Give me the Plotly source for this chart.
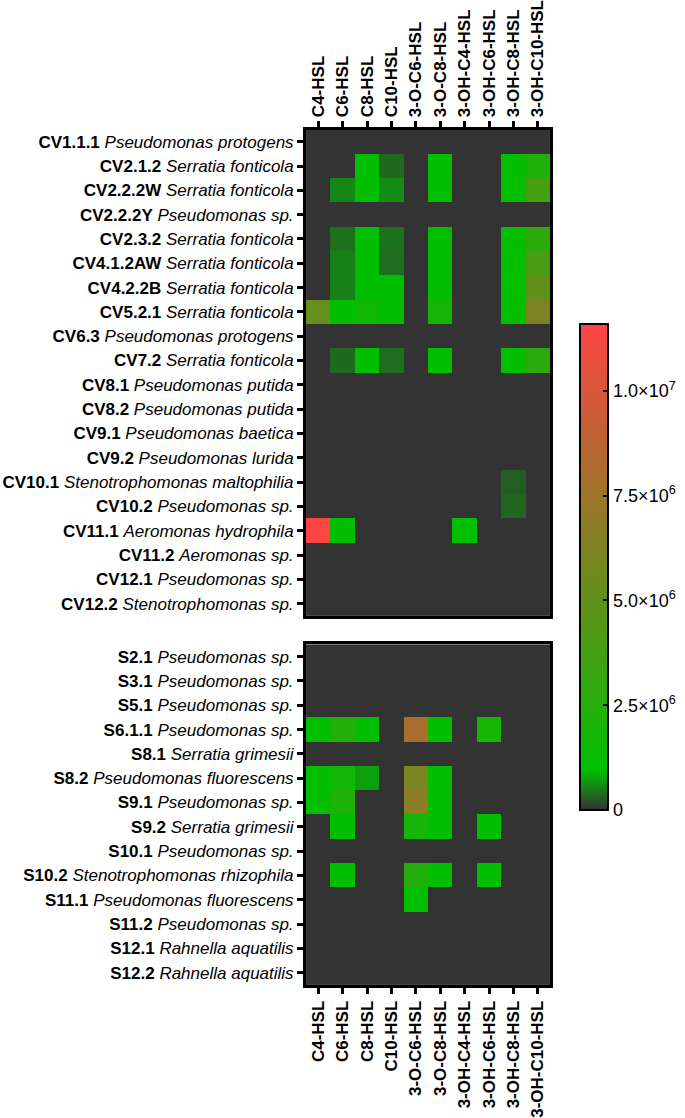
import plotly.graph_objects as go

compounds = ["C4-HSL", "C6-HSL", "C8-HSL", "C10-HSL", "3-O-C6-HSL", "3-O-C8-HSL",
             "3-OH-C4-HSL", "3-OH-C6-HSL", "3-OH-C8-HSL", "3-OH-C10-HSL"]

cv_ids = ["CV1.1.1", "CV2.1.2", "CV2.2.2W", "CV2.2.2Y", "CV2.3.2", "CV4.1.2AW", "CV4.2.2B",
          "CV5.2.1", "CV6.3", "CV7.2", "CV8.1", "CV8.2", "CV9.1", "CV9.2", "CV10.1",
          "CV10.2", "CV11.1", "CV11.2", "CV12.1", "CV12.2"]
cv_species = ["Pseudomonas protogens", "Serratia fonticola", "Serratia fonticola",
              "Pseudomonas sp.", "Serratia fonticola", "Serratia fonticola",
              "Serratia fonticola", "Serratia fonticola", "Pseudomonas protogens",
              "Serratia fonticola", "Pseudomonas putida", "Pseudomonas putida",
              "Pseudomonas baetica", "Pseudomonas lurida", "Stenotrophomonas maltophilia",
              "Pseudomonas sp.", "Aeromonas hydrophila", "Aeromonas sp.",
              "Pseudomonas sp.", "Stenotrophomonas sp."]

s_ids = ["S2.1", "S3.1", "S5.1", "S6.1.1", "S8.1", "S8.2", "S9.1", "S9.2", "S10.1",
         "S10.2", "S11.1", "S11.2", "S12.1", "S12.2"]
s_species = ["Pseudomonas sp.", "Pseudomonas sp.", "Pseudomonas sp.", "Pseudomonas sp.",
             "Serratia grimesii", "Pseudomonas fluorescens", "Pseudomonas sp.",
             "Serratia grimesii", "Pseudomonas sp.", "Stenotrophomonas rhizophila",
             "Pseudomonas fluorescens", "Pseudomonas sp.", "Rahnella aquatilis",
             "Rahnella aquatilis"]

# values per strain (columns follow `compounds`)
cv_values = [
    [0, 0, 0, 0, 0, 0, 0, 0, 0, 0],
    [0, 0, 1.0e6, 0.37e6, 0, 1.0e6, 0, 0, 1.0e6, 2.2e6],
    [0, 0.57e6, 1.0e6, 0.6e6, 0, 1.0e6, 0, 0, 1.0e6, 3.8e6],
    [0, 0, 0, 0, 0, 0, 0, 0, 0, 0],
    [0, 0.42e6, 1.0e6, 0.42e6, 0, 1.0e6, 0, 0, 1.0e6, 2.8e6],
    [0, 0.52e6, 1.0e6, 0.4e6, 0, 1.0e6, 0, 0, 1.0e6, 4.0e6],
    [0, 0.52e6, 1.0e6, 1.0e6, 0, 1.0e6, 0, 0, 1.0e6, 5.0e6],
    [5.2e6, 1.0e6, 1.6e6, 1.0e6, 0, 1.8e6, 0, 0, 1.0e6, 6.2e6],
    [0, 0, 0, 0, 0, 0, 0, 0, 0, 0],
    [0, 0.37e6, 1.0e6, 0.4e6, 0, 1.0e6, 0, 0, 1.0e6, 2.8e6],
    [0, 0, 0, 0, 0, 0, 0, 0, 0, 0],
    [0, 0, 0, 0, 0, 0, 0, 0, 0, 0],
    [0, 0, 0, 0, 0, 0, 0, 0, 0, 0],
    [0, 0, 0, 0, 0, 0, 0, 0, 0, 0],
    [0, 0, 0, 0, 0, 0, 0, 0, 0.28e6, 0],
    [0, 0, 0, 0, 0, 0, 0, 0, 0.34e6, 0],
    [1.16e7, 1.0e6, 0, 0, 0, 0, 1.0e6, 0, 0, 0],
    [0, 0, 0, 0, 0, 0, 0, 0, 0, 0],
    [0, 0, 0, 0, 0, 0, 0, 0, 0, 0],
    [0, 0, 0, 0, 0, 0, 0, 0, 0, 0],
]

s_values = [
    [0, 0, 0, 0, 0, 0, 0, 0, 0, 0],
    [0, 0, 0, 0, 0, 0, 0, 0, 0, 0],
    [0, 0, 0, 0, 0, 0, 0, 0, 0, 0],
    [1.0e6, 2.3e6, 1.0e6, 0, 8.0e6, 1.0e6, 0, 1.9e6, 0, 0],
    [0, 0, 0, 0, 0, 0, 0, 0, 0, 0],
    [1.0e6, 1.6e6, 0.73e6, 0, 6.0e6, 1.0e6, 0, 0, 0, 0],
    [1.0e6, 2.2e6, 0, 0, 6.8e6, 1.0e6, 0, 0, 0, 0],
    [0, 1.0e6, 0, 0, 1.9e6, 1.0e6, 0, 1.0e6, 0, 0],
    [0, 0, 0, 0, 0, 0, 0, 0, 0, 0],
    [0, 1.0e6, 0, 0, 2.4e6, 1.0e6, 0, 1.0e6, 0, 0],
    [0, 0, 0, 0, 1.0e6, 0, 0, 0, 0, 0],
    [0, 0, 0, 0, 0, 0, 0, 0, 0, 0],
    [0, 0, 0, 0, 0, 0, 0, 0, 0, 0],
    [0, 0, 0, 0, 0, 0, 0, 0, 0, 0],
]

cbar_vals = [0, 2.5e6, 5.0e6, 7.5e6, 1.0e7]
cbar_text = ["0", "2.5×10<sup>6</sup>", "5.0×10<sup>6</sup>", "7.5×10<sup>6</sup>",
             "1.0×10<sup>7</sup>"]
zmax = 1.16e7

cv_labels = [f"<b>{a}</b> <i>{b}</i>" for a, b in zip(cv_ids, cv_species)]
s_labels = [f"<b>{a}</b> <i>{b}</i>" for a, b in zip(s_ids, s_species)]

W, H = 685, 1118
FONT = "Liberation Sans, Arial, sans-serif"

fig = go.Figure()
fig.add_trace(go.Heatmap(z=cv_values, x=compounds, y=cv_labels, coloraxis="coloraxis",
                         xaxis="x", yaxis="y"))
fig.add_trace(go.Heatmap(z=s_values, x=compounds, y=s_labels, coloraxis="coloraxis",
                         xaxis="x2", yaxis="y2"))

xdom = [306 / W, 550 / W]
ax_common = dict(showline=True, linecolor="black", linewidth=3, mirror=True,
                 ticks="outside", ticklen=6, tickwidth=2.5, tickcolor="black",
                 showgrid=False, zeroline=False)

fig.update_layout(
    width=W, height=H,
    margin=dict(l=0, r=0, t=0, b=0),
    paper_bgcolor="white", plot_bgcolor="#333333",
    font=dict(family=FONT, color="black", size=17),
    xaxis=dict(domain=xdom, anchor="y", side="top", tickangle=-90,
               tickfont=dict(size=17, weight="bold", family=FONT), **ax_common),
    yaxis=dict(domain=[1 - 617 / H, 1 - 129 / H], anchor="x", autorange="reversed",
               tickfont=dict(size=17, family=FONT), **ax_common),
    xaxis2=dict(domain=xdom, anchor="y2", side="bottom", tickangle=-90,
                tickfont=dict(size=17, weight="bold", family=FONT), **ax_common),
    yaxis2=dict(domain=[1 - 987.4 / H, 1 - 645.8 / H], anchor="x2", autorange="reversed",
                tickfont=dict(size=17, family=FONT), **ax_common),
    coloraxis=dict(
        cmin=0, cmax=zmax,
        colorscale=[[0, "#333333"], [0.082, "#00C000"], [1, "#FF4444"]],
        colorbar=dict(
            x=580 / W, xanchor="left", xpad=0, ypad=0,
            y=1 - 568 / H, yanchor="middle",
            len=(812 - 324) / H, lenmode="fraction",
            thickness=28, thicknessmode="pixels",
            outlinewidth=2, outlinecolor="black",
            tickvals=cbar_vals, ticktext=cbar_text,
            ticks="inside", ticklen=6, tickwidth=2, tickcolor="black",
            tickfont=dict(size=18, family=FONT, color="black"),
        ),
    ),
)

fig.write_html("out.html", config={"displayModeBar": False},
               post_script="document.body.style.margin='0';")
